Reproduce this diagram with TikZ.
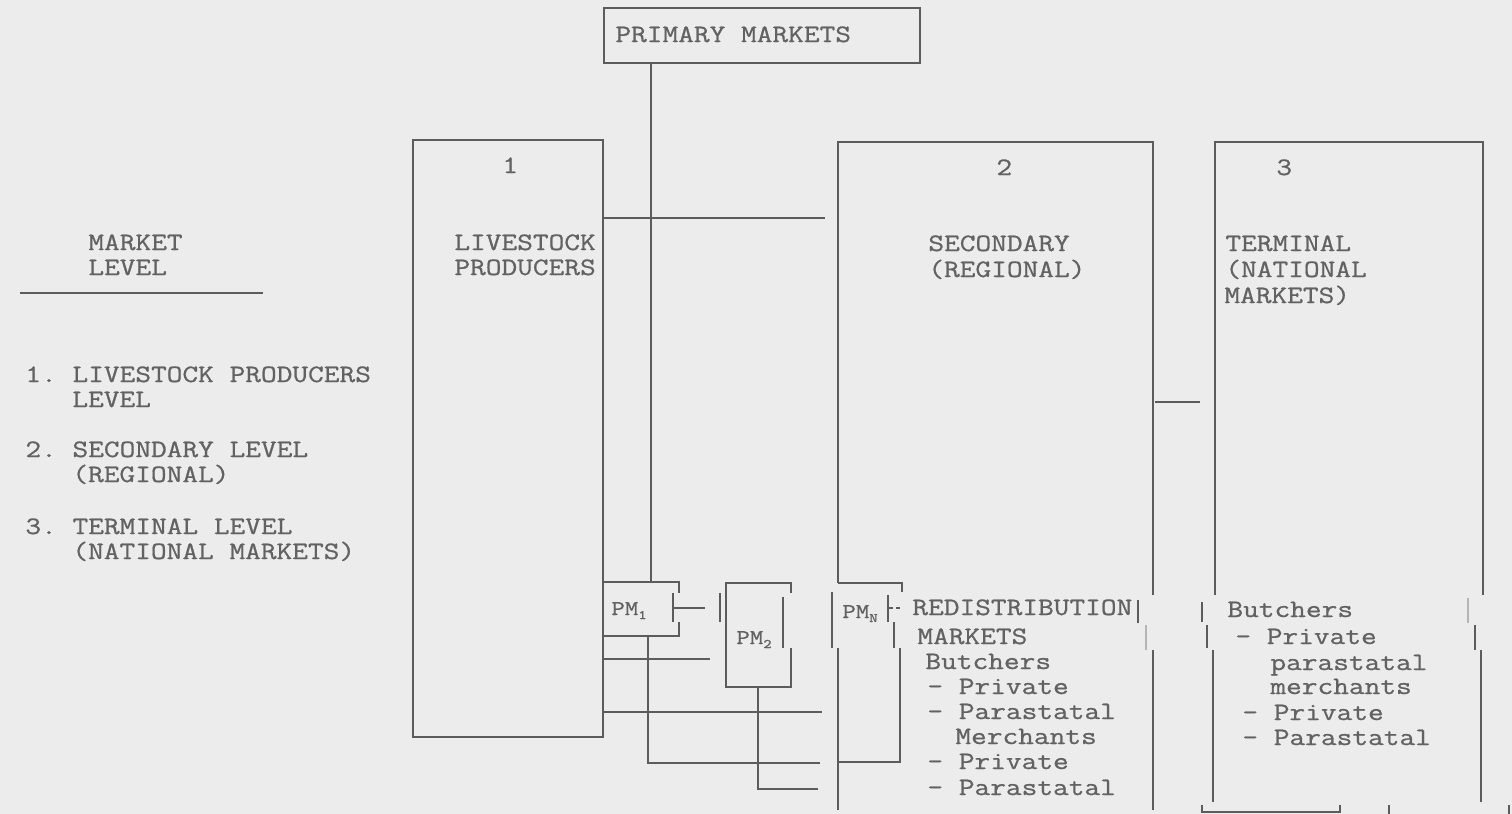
\documentclass[tikz,border=0pt]{standalone}
\usepackage{fontspec}
\setmonofont[FakeStretch=1.22,FakeBold=0.8]{Latin Modern Mono}
\definecolor{ink}{RGB}{92,92,92}
\definecolor{txtc}{RGB}{98,98,98}
\definecolor{paper}{RGB}{236,236,236}
\begin{document}
\begin{tikzpicture}[x=0.5pt,y=-0.5pt,
  ln/.style={draw=ink, line width=1.3pt},
  faint/.style={draw=ink!45, line width=1.3pt},
  txt/.style={anchor=base west, inner sep=0pt, text=txtc, font=\ttfamily\fontsize{12.5}{12.5}\selectfont},
  pmtxt/.style={anchor=base west, inner sep=0pt, text=txtc, font=\ttfamily\fontsize{10.5}{10.5}\selectfont}]
\fill[paper] (0,0) rectangle (1512,814);
\useasboundingbox (0,0) rectangle (1512,814);

% legend
\node[txt] (mk1) at (88,250) {MARKET};
\node[txt] (mk2) at (88,275) {LEVEL};
\coordinate (legL) at (20,293); \coordinate (legR) at (263,293);
\draw[ln] (legL) -- (legR);
\node[txt] (l1a) at (25,382) {1. LIVESTOCK PRODUCERS};
\node[txt] (l1b) at (72,407) {LEVEL};
\node[txt] (l2a) at (25,457) {2. SECONDARY LEVEL};
\node[txt] (l2b) at (72,482) {(REGIONAL)};
\node[txt] (l3a) at (25,534) {3. TERMINAL LEVEL};
\node[txt] (l3b) at (72,559) {(NATIONAL MARKETS)};

% primary markets
\draw[ln] (604,8) rectangle (920,63);
\node[txt] (prim) at (615,42) {PRIMARY MARKETS};
\draw[ln] (651,63) -- (651,582);

% box 1
\draw[ln] (413,140) rectangle (603,737);
\node[txt] (one) at (502,173) {1};
\node[txt] (lp1) at (454,250) {LIVESTOCK};
\node[txt] (lp2) at (454,275) {PRODUCERS};
\draw[ln] (603,218) -- (825,218);

% PM1
\draw[ln] (603,582) -- (679,582) -- (679,593);
\draw[ln] (673,593) -- (673,622);
\draw[ln] (673,608) -- (705,608);
\draw[ln] (679,622) -- (679,636) -- (603,636);
\node[pmtxt] (pm1) at (611,615) {PM\raisebox{-2pt}{\fontsize{6.5}{6.5}\selectfont 1}};

% PM2
\draw[ln] (720,593) -- (720,622);
\draw[ln] (791,593) -- (791,583) -- (726,583) -- (726,687) -- (791,687) -- (791,648);
\draw[ln] (783,597) -- (783,648);
\node[pmtxt] (pm2) at (736,644) {PM\raisebox{-2pt}{\fontsize{6.5}{6.5}\selectfont 2}};

% feeder lines
\draw[ln] (758,687) -- (758,789) -- (818,789);
\draw[ln] (603,659) -- (710,659);
\draw[ln] (603,712) -- (822,712);
\draw[ln] (648,636) -- (648,763) -- (820,763);

% box 2
\draw[ln] (838,583) -- (838,142) -- (1153,142) -- (1153,595);
\draw[ln] (838,583) -- (902,583) -- (902,592);
\draw[ln] (888,595) -- (888,622);
\draw[ln] (888,608) -- (893,608);
\draw[ln] (896,608) -- (900,608);
\draw[ln] (894,622) -- (894,648);
\draw[ln] (900,648) -- (900,762) -- (838,762);
\draw[ln] (832,592) -- (832,648);
\draw[ln] (838,648) -- (838,810);
\draw[ln] (1138,600) -- (1138,623);
\draw[faint] (1146,625) -- (1146,650);
\draw[ln] (1153,650) -- (1153,810);
\node[pmtxt] (pmn) at (842,618) {PM\raisebox{-2pt}{\fontsize{6.5}{6.5}\selectfont N}};
\node[txt] (two) at (996,175) {2};
\node[txt] (sec1) at (928,251) {SECONDARY};
\node[txt] (sec2) at (928,277) {(REGIONAL)};
\node[txt] (r1) at (912,615) {REDISTRIBUTION};
\node[txt] (r2) at (917,644) {MARKETS};
\node[txt] (r3) at (925,669) {Butchers};
\node[txt] (r4) at (927,694) {- Private};
\node[txt] (r5) at (927,719) {- Parastatal};
\node[txt] (r6) at (955,744) {Merchants};
\node[txt] (r7) at (927,769) {- Private};
\node[txt] (r8) at (927,795) {- Parastatal};

% connector 2-3
\draw[ln] (1155,402) -- (1200,402);

% box 3
\draw[ln] (1215,595) -- (1215,142) -- (1483,142) -- (1483,595);
\draw[ln] (1202,602) -- (1202,622);
\draw[ln] (1207,625) -- (1207,648);
\draw[ln] (1213,650) -- (1213,802);
\draw[faint] (1468,598) -- (1468,623);
\draw[ln] (1475,625) -- (1475,650);
\draw[ln] (1481,650) -- (1481,802);
\draw[ln] (1202,805) -- (1202,812) -- (1340,812) -- (1340,805);
\draw[ln] (1389,805) -- (1389,814);
\draw[ln] (1509,805) -- (1509,814);
\node[txt] (three) at (1276,175) {3};
\node[txt] (t1) at (1225,251) {TERMINAL};
\node[txt] (t2) at (1225,277) {(NATIONAL};
\node[txt] (t3) at (1224,303) {MARKETS)};
\node[txt] (b1) at (1227,617) {Butchers};
\node[txt] (b2) at (1235,644) {- Private};
\node[txt] (b3) at (1270,670) {parastatal};
\node[txt] (b4) at (1270,694) {merchants};
\node[txt] (b5) at (1242,720) {- Private};
\node[txt] (b6) at (1242,745) {- Parastatal};
\end{tikzpicture}
\end{document}
